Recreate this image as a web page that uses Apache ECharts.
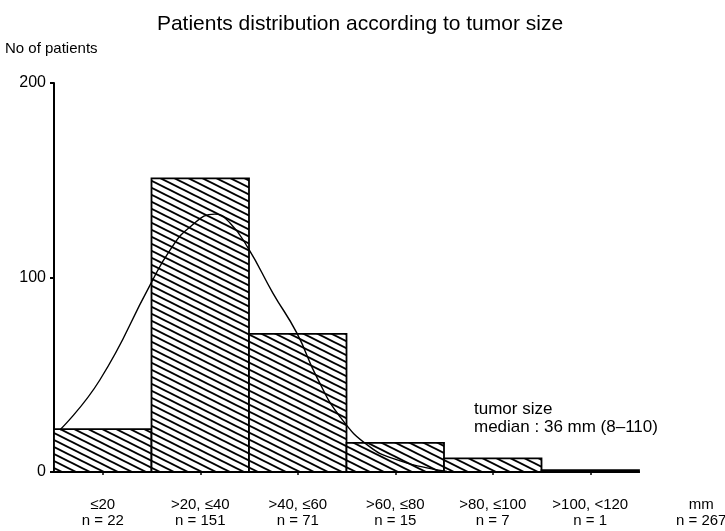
<!DOCTYPE html>
<html>
<head>
<meta charset="utf-8">
<script src="https://cdn.jsdelivr.net/npm/echarts@6/dist/echarts.min.js"></script>
<style>
  html, body { margin: 0; padding: 0; background: #fff; }
  #chart { width: 725px; height: 531px; }
</style>
</head>
<body>
<div id="chart"></div>
<script>
// Tumor size classes (mm) and patient counts
const binEdges = [0, 20, 40, 60, 80, 100, 120];
const counts = [22, 151, 71, 15, 7, 1];
const rangeLabels = ['≤20', '>20, ≤40', '>40, ≤60', '>60, ≤80', '>80, ≤100', '>100, <120'];
const yTicks = [0, 100, 200];
const totalPatients = 267;

// Fitted distribution curve (mm, patients)
const curveMm = [1.2, 9.4, 19.7, 23.8, 27.9, 33.0, 36.1, 39.8, 44.9, 49.8, 53.9, 58.7, 64.8, 70.4, 76.5, 80.6];
const curveN = [21.6, 47.3, 96.1, 114.1, 126.0, 132.6, 128.0, 115.2, 92.0, 71.5, 48.8, 28.3, 12.9, 6.2, 2.1, 0.3];

const FONT = '"Liberation Sans", Arial, sans-serif';

// Diagonal hatch texture for the bars
function hatchPattern() {
  const w = 14, h = 7;
  const c = document.createElement('canvas');
  c.width = w; c.height = h;
  const ctx = c.getContext('2d');
  ctx.fillStyle = '#fff';
  ctx.fillRect(0, 0, w, h);
  ctx.strokeStyle = '#000';
  ctx.lineWidth = 1.9;
  for (const off of [-h, 0, h]) {
    ctx.beginPath();
    ctx.moveTo(-2, off - 1);
    ctx.lineTo(w + 2, off + h + 1);
    ctx.stroke();
  }
  return c;
}
const hatch = hatchPattern();

const barData = counts.map((n, i) => [binEdges[i], binEdges[i + 1], n]);
const curveData = curveMm.map((x, i) => [x, curveN[i]]);

const chart = echarts.init(document.getElementById('chart'), null, { renderer: 'canvas' });

chart.setOption({
  animation: false,
  backgroundColor: '#fff',
  textStyle: { fontFamily: FONT, color: '#000' },
  title: {
    text: 'Patients distribution according to tumor size',
    left: 355, top: 9, textAlign: 'center',
    textStyle: { fontFamily: FONT, fontSize: 21, fontWeight: 'normal', color: '#000' }
  },
  grid: { left: 54, right: 86, top: 83, bottom: 59 },
  xAxis: [
    {
      type: 'value', min: binEdges[0], max: binEdges[binEdges.length - 1], interval: 20,
      axisLine: { show: true, lineStyle: { color: '#000', width: 2 } },
      axisTick: { show: false }, axisLabel: { show: false }, splitLine: { show: false }
    },
    {
      type: 'category', data: rangeLabels.map((r, i) => r + '\nn = ' + counts[i]),
      position: 'bottom', boundaryGap: true,
      axisLine: { show: false },
      axisTick: { show: true, alignWithLabel: true, length: 3, lineStyle: { color: '#000', width: 1.5 } },
      axisLabel: { color: '#000', fontFamily: FONT, fontSize: 15, lineHeight: 16, margin: 25, interval: 0 },
      splitLine: { show: false }
    }
  ],
  yAxis: {
    type: 'value', min: yTicks[0], max: yTicks[yTicks.length - 1], interval: 100,
    axisLine: { show: true, lineStyle: { color: '#000', width: 2 } },
    axisTick: { show: true, length: 4, lineStyle: { color: '#000', width: 2 } },
    axisLabel: { color: '#000', fontFamily: FONT, fontSize: 16, margin: 8 },
    splitLine: { show: false }
  },
  graphic: [
    { type: 'text', left: 5, top: 41, style: { text: 'No of patients', font: '15px ' + FONT, fill: '#000' } },
    { type: 'text', left: 676, top: 497, style: { text: 'mm\nn = ' + totalPatients, font: '15px ' + FONT, lineHeight: 16, fill: '#000', textAlign: 'center', x: 23 } },
    { type: 'text', left: 474, top: 400, style: { text: 'tumor size\nmedian : 36 mm (8\u2013110)', font: '17px ' + FONT, lineHeight: 18, fill: '#000' } }
  ],
  series: [
    {
      type: 'custom', xAxisIndex: 0, yAxisIndex: 0,
      data: barData,
      encode: { x: [0, 1], y: 2 },
      renderItem: function (params, api) {
        const p0 = api.coord([api.value(0), api.value(2)]);
        const p1 = api.coord([api.value(1), 0]);
        return {
          type: 'rect',
          shape: { x: p0[0], y: p0[1], width: p1[0] - p0[0], height: p1[1] - p0[1] },
          style: { fill: { image: hatch, repeat: 'repeat' }, stroke: '#000', lineWidth: 1.8 }
        };
      },
      z: 2
    },
    {
      type: 'line', xAxisIndex: 0, yAxisIndex: 0,
      data: curveData, smooth: true, showSymbol: false,
      lineStyle: { color: '#000', width: 1.4 },
      z: 3
    }
  ]
});
</script>
</body>
</html>
